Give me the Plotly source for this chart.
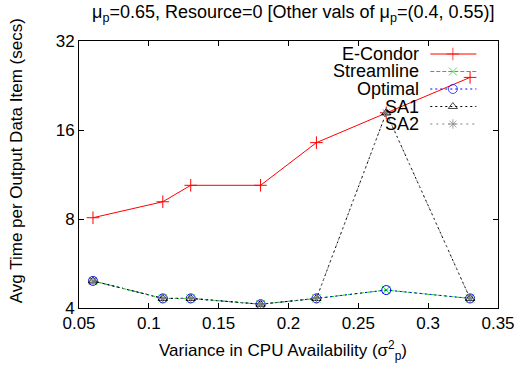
import plotly.graph_objects as go

# Variance in CPU availability (x) and average time per output item (y, secs)
variance = [0.06, 0.11, 0.13, 0.18, 0.22, 0.27, 0.33]
e_condor = [8.08, 9.15, 10.4, 10.4, 14.5, 18.3, 24.1]
streamline = [4.94, 4.31, 4.31, 4.12, 4.31, 4.6, 4.31]
optimal = [4.94, 4.31, 4.31, 4.12, 4.31, 4.6, 4.31]
sa1 = [4.94, 4.31, 4.31, 4.12, 4.31, 18.3, 4.31]
sa2 = [4.94, 4.31, 4.31, 4.12, 4.31, 18.3, 4.31]

x_ticks = [0.05, 0.1, 0.15, 0.2, 0.25, 0.3, 0.35]
x_tick_text = ["0.05", "0.1", "0.15", "0.2", "0.25", "0.3", "0.35"]
y_ticks = [4, 8, 16, 32]
y_tick_text = ["4", "8", "16", "32"]

FONT = "Liberation Sans, Arial, sans-serif"

series = [
    ("E-Condor", e_condor, "#ff0000", "solid", "cross-thin-open", 9),
    ("Streamline", streamline, "#00e000", "4px,2px", "x-thin-open", 8),
    ("Optimal", optimal, "#0000ff", "2px,3px", "circle-open", 9),
    ("SA1", sa1, "#000000", "2px,3px", "triangle-up-open", 8),
    ("SA2", sa2, "#808080", "2px,4px", "asterisk-open", 8),
]

fig = go.Figure()
for name, vals, color, dash, symbol, size in series:
    fig.add_trace(go.Scatter(
        x=variance, y=vals, name=name, mode="lines+markers",
        line=dict(color=color, width=1, dash=dash),
        marker=dict(symbol=symbol, size=size, color=color,
                    line=dict(color=color, width=1)),
        showlegend=False,
    ))

# gnuplot-style key: right-aligned labels with line samples to the right
key_top = 54
key_step = 17.5
W, H = 527, 371
ml, mr, mt, mb = 79, 21, 41, 63
pw, ph = W - ml - mr, H - mt - mb
for i, (name, vals, color, dash, symbol, size) in enumerate(series):
    ypix = key_top + i * key_step
    yp = 1 - (ypix - mt) / ph
    x0 = (437 - ml) / pw
    x1 = (484 - ml) / pw
    xm = (460 - ml) / pw
    xt = (428 - ml) / pw
    fig.add_annotation(x=xt, y=yp, xref="paper", yref="paper", text=name,
                       showarrow=False, xanchor="right", yanchor="middle",
                       font=dict(family=FONT, size=18, color="black"))
    fig.add_trace(go.Scatter(
        x=[x0, xm, x1], y=[yp, yp, yp], xaxis="x2", yaxis="y2",
        mode="lines+markers",
        line=dict(color=color, width=1, dash=dash),
        marker=dict(symbol=symbol, size=[0, size, 0], color=color,
                    line=dict(color=color, width=1)),
        showlegend=False, hoverinfo="skip",
    ))

axis_common = dict(
    showline=True, linecolor="black", linewidth=1, mirror="allticks",
    ticks="inside", ticklen=5, tickcolor="black", showgrid=False,
    zeroline=False, tickfont=dict(family=FONT, size=17, color="black"),
)

fig.update_layout(
    width=W, height=H,
    margin=dict(l=ml, r=mr, t=mt, b=mb),
    paper_bgcolor="white", plot_bgcolor="white",
    showlegend=False,
    xaxis=dict(range=[0.05, 0.35], tickvals=x_ticks, ticktext=x_tick_text,
               **axis_common),
    yaxis=dict(type="log", range=[0.60206, 1.50515], tickvals=y_ticks,
               ticktext=y_tick_text, **axis_common),
    xaxis2=dict(range=[0, 1], overlaying="x", visible=False, fixedrange=True),
    yaxis2=dict(range=[0, 1], overlaying="y", visible=False, fixedrange=True),
)

# title
fig.add_annotation(
    x=(90 - ml) / pw, y=1 + (mt - 14) / ph, xref="paper", yref="paper",
    text="\u03bc<sub>p</sub>=0.65, Resource=0 [Other vals of \u03bc<sub>p</sub>=(0.4, 0.55)]",
    showarrow=False, xanchor="left", yanchor="middle",
    font=dict(family=FONT, size=18, color="black"),
)
# x axis label
fig.add_annotation(
    x=(158 - ml) / pw, y=-(350 - mt - ph) / ph, xref="paper", yref="paper",
    text="Variance in CPU Availability (\u03c3<sup>2</sup><sub>p</sub>)",
    showarrow=False, xanchor="left", yanchor="middle",
    font=dict(family=FONT, size=17, color="black"),
)
# y axis label
fig.add_annotation(
    x=(15 - ml) / pw, y=1 - (161 - mt) / ph, xref="paper", yref="paper",
    text="Avg Time per Output Data Item (secs)", textangle=-90,
    showarrow=False, xanchor="center", yanchor="middle",
    font=dict(family=FONT, size=17, color="black"),
)

fig.write_html("out.html")
